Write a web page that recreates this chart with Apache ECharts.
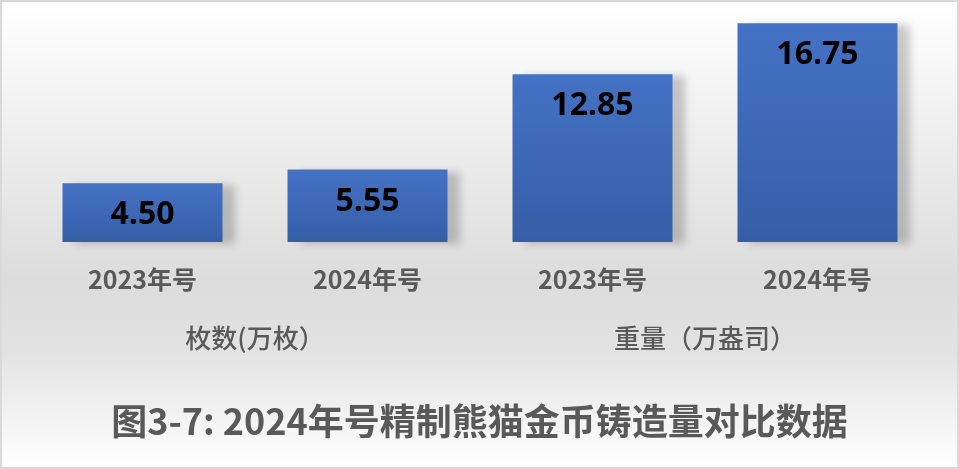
<!DOCTYPE html>
<html><head><meta charset="utf-8">
<script src="https://cdn.jsdelivr.net/npm/echarts@6/dist/echarts.min.js"></script>
<style>html,body{margin:0;padding:0;background:#fff}#c{width:955px;height:465px;border:2px solid #d9d9d9}</style>
</head><body><div id="c"></div>
<script>
var categories = ['2023年号', '2024年号', '2023年号', '2024年号'];
var groups = ['枚数(万枚）', '重量（万盎司）'];
var values = [4.50, 5.55, 12.85, 16.75];
var titleText = '图3-7: 2024年号精制熊猫金币铸造量对比数据';

var chart = echarts.init(document.getElementById('c'));
chart.setOption({
  animation: false,
  backgroundColor: new echarts.graphic.LinearGradient(0, 0, 0, 1, [
    {offset: 0, color: '#ffffff'},
    {offset: 0.6, color: '#dcdcdc'},
    {offset: 0.75, color: '#e2e2e2'},
    {offset: 1, color: '#ffffff'}
  ]),
  title: {
    text: titleText, left: 'center', top: 396,
    textStyle: {fontFamily: 'Noto Sans CJK SC', fontSize: 36, fontWeight: 'bold', color: '#595959'}
  },
  grid: {left: 28, right: 27, top: 5, bottom: 225},
  xAxis: [{
    type: 'category', data: categories,
    axisLine: {show: false}, axisTick: {show: false},
    axisLabel: {margin: 25, fontFamily: 'Noto Sans CJK SC', fontSize: 25, fontWeight: 'bold', color: '#595959'}
  }, {
    type: 'category', data: groups, position: 'bottom', offset: 58,
    axisLine: {show: false}, axisTick: {show: false},
    axisLabel: {margin: 25, fontFamily: 'Noto Sans CJK SC', fontSize: 26, fontWeight: 500, color: '#595959'}
  }],
  yAxis: {type: 'value', min: 0, max: 18, show: false, splitLine: {show: false}},
  series: [{
    type: 'bar', data: values, barWidth: 160, xAxisIndex: 0,
    itemStyle: {
      color: new echarts.graphic.LinearGradient(0, 0, 0, 1, [
        {offset: 0, color: '#4472c4'}, {offset: 1, color: '#365ea8'}
      ]),
      shadowColor: 'rgba(0,0,0,0.2)', shadowBlur: 8, shadowOffsetX: 12, shadowOffsetY: 2
    },
    label: {
      show: true, position: 'insideTop', distance: 16,
      formatter: function (p) { return p.value.toFixed(2); },
      fontFamily: 'Open Sans', fontSize: 32, fontWeight: 'bold', color: '#000'
    }
  }]
});
</script></body></html>
